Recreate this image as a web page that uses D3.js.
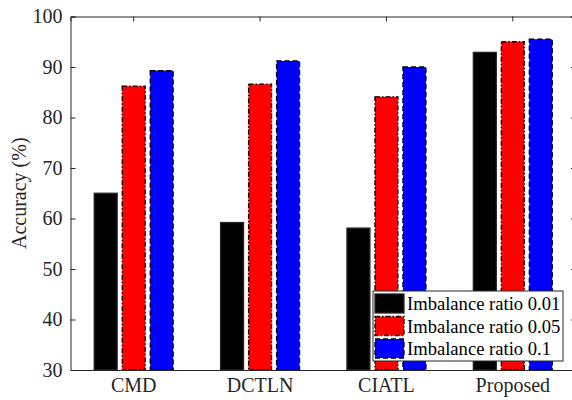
<!DOCTYPE html>
<html>
<head>
<meta charset="utf-8">
<script src="https://cdn.jsdelivr.net/npm/d3@7"></script>
<style>
  body { margin: 0; background: #fff; }
  text { font-family: "Liberation Serif", "Times New Roman", serif; fill: #262626; }
</style>
</head>
<body>
<div id="chart"></div>
<script>
// chart data
const categories = ['CMD', 'DCTLN', 'CIATL', 'Proposed'];
const seriesNames = ['Imbalance ratio 0.01', 'Imbalance ratio 0.05', 'Imbalance ratio 0.1'];
const ratio001 = [65.0, 59.2, 58.1, 92.9];
const ratio005 = [86.2, 86.6, 84.1, 95.0];
const ratio01 = [89.3, 91.2, 90.0, 95.5];
const yTicks = [30, 40, 50, 60, 70, 80, 90, 100];

const seriesValues = [ratio001, ratio005, ratio01];
const fills = ['#000000', '#ff0000', '#0000ff'];
const dashes = [null, '5,2,1.5,2', '5,3'];

const width = 572, height = 400;
const margin = {top: 16.5, right: -4, bottom: 30, left: 70.5};
const fontFamily = '"Liberation Serif", "Times New Roman", serif';

const svg = d3.select('#chart').append('svg')
  .attr('width', width)
  .attr('height', height);

const x = d3.scaleBand()
  .domain(categories)
  .range([margin.left, width - margin.right]);

const inner = d3.scaleBand()
  .domain(d3.range(seriesNames.length))
  .range([-42, 42])
  .paddingInner(0.18)
  .paddingOuter(0.09);

const y = d3.scaleLinear()
  .domain([30, 100])
  .range([height - margin.bottom, margin.top]);

// bars
seriesValues.forEach((vals, s) => {
  svg.append('g')
    .selectAll('rect')
    .data(vals)
    .join('rect')
    .attr('x', (d, i) => x(categories[i]) + x.bandwidth() / 2 + inner(s))
    .attr('width', inner.bandwidth())
    .attr('y', d => y(d))
    .attr('height', d => y(30) - y(d))
    .attr('fill', fills[s])
    .attr('stroke', s === 0 ? '#262626' : '#000')
    .attr('stroke-width', 1.3)
    .attr('stroke-dasharray', dashes[s]);
});

// axes box
const axisColor = '#262626';
const x0 = margin.left, x1 = width - margin.right;
const y0 = y(30), y1 = y(100);

svg.append('g')
  .attr('transform', `translate(0,${y0})`)
  .call(d3.axisBottom(x).tickSize(0).tickPadding(8))
  .call(g => g.select('.domain').attr('stroke', axisColor))
  .call(g => g.selectAll('text').attr('font-size', 20).attr('fill', axisColor)
    .style('font-family', fontFamily));

svg.append('g')
  .attr('transform', `translate(${x0},0)`)
  .call(d3.axisLeft(y).tickValues(yTicks).tickSize(-5).tickPadding(8))
  .call(g => g.select('.domain').attr('stroke', axisColor))
  .call(g => g.selectAll('line').attr('stroke', axisColor))
  .call(g => g.selectAll('text').attr('font-size', 20).attr('fill', axisColor)
    .style('font-family', fontFamily));

svg.append('g')
  .attr('transform', `translate(${x1},0)`)
  .call(d3.axisRight(y).tickValues(yTicks).tickSize(-5).tickFormat(''))
  .call(g => g.select('.domain').attr('stroke', axisColor))
  .call(g => g.selectAll('line').attr('stroke', axisColor));

svg.append('g')
  .attr('transform', `translate(0,${y1})`)
  .call(d3.axisTop(x).tickSize(-5).tickFormat(''))
  .call(g => g.select('.domain').attr('stroke', axisColor))
  .call(g => g.selectAll('line').attr('stroke', axisColor));

// y label
svg.append('text')
  .attr('transform', `translate(26,${(y0 + y1) / 2}) rotate(-90)`)
  .attr('text-anchor', 'middle')
  .attr('font-size', 20)
  .text('Accuracy (%)');

// legend
const legend = svg.append('g').attr('transform', 'translate(373,291)');
legend.append('rect')
  .attr('width', 190)
  .attr('height', 70)
  .attr('fill', '#fff')
  .attr('stroke', axisColor)
  .attr('stroke-width', 1);

seriesNames.forEach((name, s) => {
  const row = legend.append('g').attr('transform', `translate(2,${3 + s * 22.5})`);
  row.append('rect')
    .attr('width', 29)
    .attr('height', 19)
    .attr('fill', fills[s])
    .attr('stroke', s === 0 ? '#262626' : '#000')
    .attr('stroke-width', 1.3)
    .attr('stroke-dasharray', dashes[s]);
  row.append('text')
    .attr('x', 32)
    .attr('y', 16)
    .attr('font-size', 18.6)
    .style('fill', '#000')
    .text(name);
});
</script>
</body>
</html>
